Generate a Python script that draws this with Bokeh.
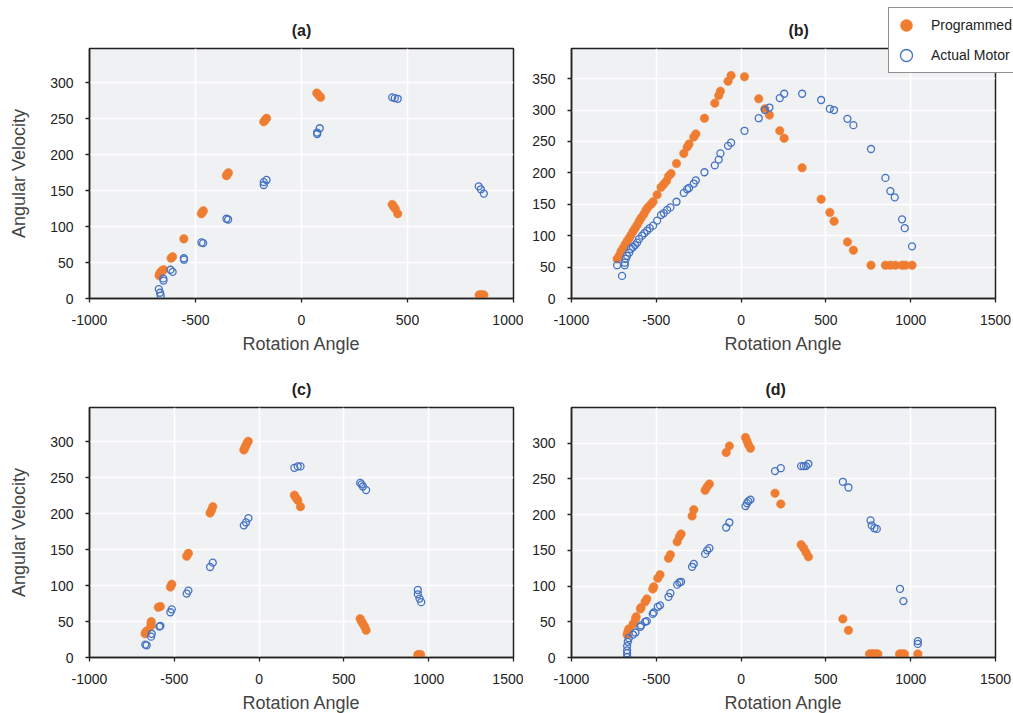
from bokeh.plotting import figure
from bokeh.layouts import gridplot
from bokeh.models import FixedTicker, Legend, LegendItem, Range1d
from bokeh.embed import file_html
from bokeh.resources import INLINE

ORANGE = "#ef7d31"
BLUE = "#4472c4"
FONT = "Liberation Sans"

# ---------------- data ----------------
a_prog_x = [-672, -668, -663, -657, -650, -615, -608, -555, -472, -468, -463, -354, -350, -345,
            -178, -172, -165, 72, 78, 84, 90, 428, 434, 442, 454, 838, 845, 852, 860]
a_prog_y = [32, 35, 37, 39, 40, 56, 58, 83, 118, 120, 122, 171, 173, 175,
            246, 248, 251, 286, 284, 282, 280, 131, 128, 125, 118, 5, 5, 5, 5]
a_act_x = [-673, -667, -664, -652, -651, -618, -608, -555, -554, -472, -464, -354, -346,
           -178, -178, -165, 74, 86, 74, 428, 440, 454, 836, 846, 860]
a_act_y = [13, 8, 4, 28, 25, 40, 37, 56, 54, 78, 77, 111, 110,
           162, 158, 165, 229, 237, 231, 280, 279, 278, 156, 152, 146]

b_prog_x = [-731, -719, -708, -696, -684, -672, -660, -649, -637, -625,
            -613, -601, -590, -574, -562, -550, -531, -519, -495, -472,
            -456, -440, -427, -413, -381, -338, -318, -307, -279, -267,
            -216, -155, -132, -122, -77, -59, 20, 104, 140, 167,
            228, 254, 360, 472, 523, 548, 627, 662, 766, 851,
            880, 910, 949, 969, 1008]
b_prog_y = [63, 68, 75, 80, 86, 91, 96, 101, 107, 112,
            117, 123, 128, 134, 140, 145, 150, 154, 165, 177,
            182, 187, 195, 199, 215, 231, 241, 246, 257, 262,
            287, 311, 323, 330, 346, 355, 353, 318, 302, 292,
            267, 255, 208, 158, 137, 123, 90, 77, 53, 53,
            53, 53, 53, 53, 53]
b_act_x = [-731, -702, -686, -686, -680, -672, -660, -649, -637, -625,
           -613, -601, -584, -570, -554, -539, -519, -495, -472, -456,
           -436, -417, -381, -338, -318, -307, -279, -267, -216, -155,
           -132, -122, -77, -59, 20, 104, 140, 167, 228, 254,
           360, 472, 523, 548, 627, 662, 766, 851, 880, 906,
           949, 965, 1008]
b_act_y = [53, 36, 53, 57, 63, 68, 73, 79, 82, 85,
           89, 95, 100, 104, 108, 112, 116, 124, 133, 136,
           141, 145, 154, 168, 174, 176, 183, 188, 201, 212,
           221, 231, 243, 248, 267, 287, 300, 304, 319, 326,
           326, 316, 302, 300, 286, 276, 238, 192, 171, 161,
           126, 112, 83]

c_prog_x = [-672, -668, -663, -638, -637, -636, -594, -582, -523, -515, -427, -417,
            -289, -281, -273, -90, -84, -78, -72, -64, 208, 218, 228, 244,
            596, 604, 612, 622, 631, 936, 944, 952]
c_prog_y = [33, 35, 37, 44, 47, 50, 70, 71, 98, 102, 141, 145,
            201, 205, 210, 289, 292, 295, 298, 301, 226, 222, 219, 210,
            54, 50, 47, 43, 38, 4, 4, 4]
c_act_x = [-671, -663, -637, -633, -588, -582, -523, -515, -427, -417, -289, -273,
           -90, -77, -63, 208, 228, 244, 596, 604, 612, 631, 936, 936, 946, 956]
c_act_y = [18, 17, 29, 33, 43, 44, 63, 67, 89, 93, 126, 132,
           184, 188, 194, 264, 266, 266, 243, 241, 238, 233, 94, 88, 82, 77]

d_prog_x = [-672, -668, -662, -637, -623, -619, -594, -590, -566, -556, -521, -515,
            -491, -478, -428, -417, -377, -364, -354, -289, -279, -212, -200, -187,
            -88, -69, 26, 35, 43, 55, 200, 234, 354, 369, 383, 397, 600, 633,
            757, 767, 777, 787, 797, 806, 934, 944, 954, 963, 1042]
d_prog_y = [32, 36, 40, 47, 54, 57, 68, 70, 78, 82, 96, 99,
            111, 116, 139, 144, 162, 169, 173, 198, 207, 234, 239, 243,
            287, 296, 308, 303, 298, 293, 230, 215, 158, 153, 147, 141, 54, 38,
            5, 5, 5, 5, 5, 5, 5, 5, 5, 5, 5]
d_act_x = [-672, -672, -672, -672, -668, -662, -637, -623, -594, -590, -566, -556,
           -521, -515, -491, -478, -428, -417, -377, -364, -354, -289, -279, -212,
           -200, -187, -88, -69, 26, 35, 43, 55, 200, 234, 354, 369, 383, 397,
           600, 633, 763, 770, 786, 800, 937, 957, 1042, 1042]
d_act_y = [1, 6, 10, 16, 22, 27, 32, 35, 43, 45, 50, 51,
           61, 63, 71, 73, 85, 90, 102, 105, 106, 127, 131, 145,
           150, 153, 182, 189, 212, 216, 219, 221, 261, 265, 268, 268, 268, 271,
           246, 238, 192, 185, 181, 180, 96, 79, 23, 19]

x_ticks_a = [-1000, -500, 0, 500, 1000]
x_ticks_bcd = [-1000, -500, 0, 500, 1000, 1500]
y_ticks_300 = [0, 50, 100, 150, 200, 250, 300]
y_ticks_350 = [0, 50, 100, 150, 200, 250, 300, 350]

x_label = "Rotation Angle"
y_label = "Angular Velocity"
legend_labels = ["Programmed", "Actual Motor"]


def panel(title, px, py, ax_, ay_, xr, yr, xt, yt, left, right, top, bottom, ylabel,
          title_left=None):
    p = figure(frame_width=424, frame_height=250,
               x_range=Range1d(*xr), y_range=Range1d(*yr),
               output_backend="svg", toolbar_location=None,
               min_border_left=left, min_border_right=right,
               min_border_top=top, min_border_bottom=bottom,
               background_fill_color="#f0f1f3", border_fill_color="white",
               title=title)
    p.title.text_font = FONT
    p.title.text_font_size = "16px"
    p.title.text_font_style = "bold"
    p.title.text_color = "#222222"
    if title_left is None:
        p.title.align = "center"
    else:
        p.title.align = "left"
        p.title.offset = title_left
    p.title.standoff = 20
    p.outline_line_color = "#222222"
    p.outline_line_width = 1.5
    p.outline_line_alpha = 1.0
    p.grid.grid_line_color = "white"
    p.grid.grid_line_width = 1.6
    p.xaxis.ticker = FixedTicker(ticks=xt)
    p.yaxis.ticker = FixedTicker(ticks=yt)
    p.xaxis.major_label_overrides = {t: str(t) for t in xt}
    p.yaxis.major_label_overrides = {t: str(t) for t in yt}
    for axis in (p.xaxis[0], p.yaxis[0]):
        axis.axis_line_color = "#222222"
        axis.axis_line_width = 1.5
        axis.major_tick_line_color = "#222222"
        axis.major_tick_line_width = 1.3
        axis.major_tick_out = 4
        axis.major_tick_in = 0
        axis.minor_tick_line_color = None
        axis.major_label_text_font = FONT
        axis.major_label_text_font_size = "14px"
        axis.major_label_text_color = "#222222"
        axis.axis_label_text_font = FONT
        axis.axis_label_text_font_size = "18px"
        axis.axis_label_text_font_style = "normal"
        axis.axis_label_text_color = "#444444"
    p.xaxis.major_label_standoff = 12
    p.yaxis.major_label_standoff = 12
    p.xaxis.axis_label = x_label
    p.xaxis.axis_label_standoff = 6
    if ylabel:
        p.yaxis.axis_label = y_label
        p.yaxis.axis_label_standoff = 18
    r1 = p.scatter(px, py, size=8.5, fill_color=ORANGE, line_color=ORANGE, line_width=0.5)
    r2 = p.scatter(ax_, ay_, size=7, fill_color=None, line_color=BLUE, line_width=1.3)
    return p, r1, r2


pa, _, _ = panel("(a)", a_prog_x, a_prog_y, a_act_x, a_act_y, (-1000, 1000), (0, 348),
                 x_ticks_a, y_ticks_300, 89, 10, 48, 69, True)
pb, rb1, rb2 = panel("(b)", b_prog_x, b_prog_y, b_act_x, b_act_y, (-1000, 1500), (0, 398),
                     x_ticks_bcd, y_ticks_350, 48, 18, 48, 69, False, title_left=217)
pc, _, _ = panel("(c)", c_prog_x, c_prog_y, c_act_x, c_act_y, (-1000, 1500), (0, 348),
                 x_ticks_bcd, y_ticks_300, 89, 10, 40, 56, True)
pd_, _, _ = panel("(d)", d_prog_x, d_prog_y, d_act_x, d_act_y, (-1000, 1500), (0, 350),
                  x_ticks_bcd, y_ticks_300, 48, 18, 40, 56, False, title_left=194)

# legend sits in the (b) figure's right side panel (side panels are not clipped
# to the frame), shifted left so that it overlaps the frame's top-right corner
legend = Legend(items=[LegendItem(label=legend_labels[0], renderers=[rb1]),
                       LegendItem(label=legend_labels[1], renderers=[rb2])],
                location=(-107, 225), orientation="vertical",
                glyph_width=30, glyph_height=30, label_height=30, spacing=0,
                padding=2, margin=0, label_standoff=10,
                label_text_font=FONT, label_text_font_size="14px",
                label_text_color="#222222",
                border_line_color="#222222", border_line_width=1.5,
                background_fill_color="white", background_fill_alpha=1.0)
pb.add_layout(legend, "right")

grid = gridplot([[pa, pb], [pc, pd_]], toolbar_location=None)
grid.styles = {"max-width": "1013px", "max-height": "713px", "overflow": "hidden"}

open("out.html", "w").write(file_html(grid, INLINE))
